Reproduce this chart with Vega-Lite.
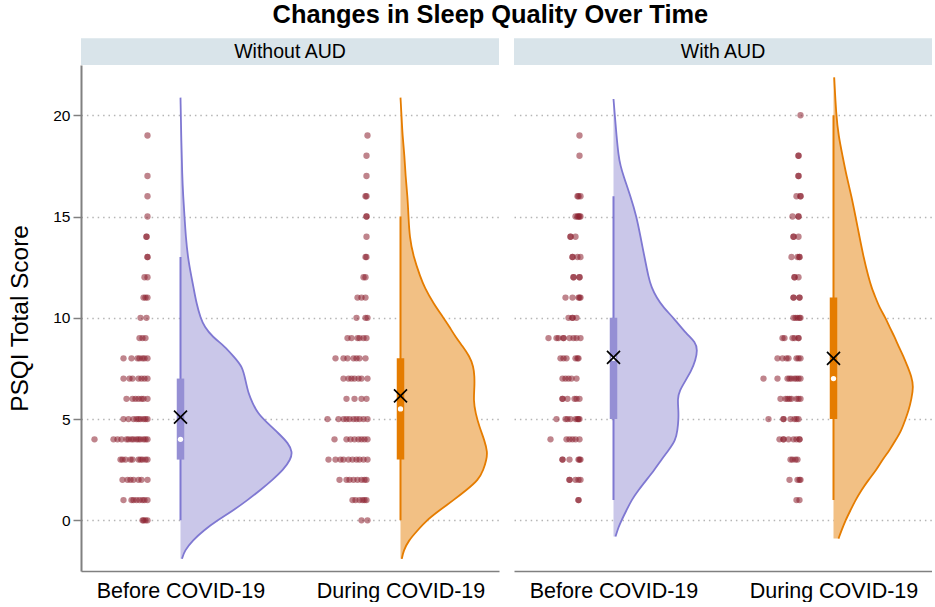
{"$schema":"https://vega.github.io/schema/vega-lite/v6.json","padding":{"left":7,"top":2,"right":0,"bottom":0},"background":"white","config":{"font":"Liberation Sans","view":{"stroke":null},"concat":{"spacing":15}},"title":{"text":"Changes in Sleep Quality Over Time","fontSize":25.4,"fontWeight":"bold","font":"Liberation Sans","color":"#000000","anchor":"middle","offset":10,"dx":20.5},
"datasets":{
"strip":[{"panel":"Without AUD","x":-99.5,"x2":318.5,"y":22.48,"y2":23.8},{"panel":"With AUD","x":-99.5,"x2":318.5,"y":22.48,"y2":23.8}],
"stripLabel":[{"panel":"Without AUD","x":109.5,"y":23.14},{"panel":"With AUD","x":109.5,"y":23.14}],
"box":[
{"panel":"Without AUD","period":"Before","part":"whisker","x":0,"y":0,"y2":13},{"panel":"Without AUD","period":"Before","part":"box","x":0,"y":3,"y2":7},{"panel":"Without AUD","period":"Before","part":"median","x":0,"y":4},{"panel":"Without AUD","period":"Before","part":"mean","x":0,"y":5.1},
{"panel":"Without AUD","period":"During","part":"whisker","x":220,"y":0,"y2":15},{"panel":"Without AUD","period":"During","part":"box","x":220,"y":3,"y2":8},{"panel":"Without AUD","period":"During","part":"median","x":220,"y":5.5},{"panel":"Without AUD","period":"During","part":"mean","x":220,"y":6.15},
{"panel":"With AUD","period":"Before","part":"whisker","x":0,"y":1,"y2":16},{"panel":"With AUD","period":"Before","part":"box","x":0,"y":5,"y2":10},{"panel":"With AUD","period":"Before","part":"median","x":0,"y":8},{"panel":"With AUD","period":"Before","part":"mean","x":0,"y":8.05},
{"panel":"With AUD","period":"During","part":"whisker","x":220,"y":1,"y2":20},{"panel":"With AUD","period":"During","part":"box","x":220,"y":5,"y2":11},{"panel":"With AUD","period":"During","part":"median","x":220,"y":7},{"panel":"With AUD","period":"During","part":"mean","x":220,"y":8}],
"violin":[
{"panel":"Without AUD","period":"Before","base":0,"y":-1.9,"x":1.5},{"panel":"Without AUD","period":"Before","base":0,"y":-1.9,"x":1.5},{"panel":"Without AUD","period":"Before","base":0,"y":-1.5,"x":4},{"panel":"Without AUD","period":"Before","base":0,"y":-1,"x":12},{"panel":"Without AUD","period":"Before","base":0,"y":-0.5,"x":23},{"panel":"Without AUD","period":"Before","base":0,"y":0,"x":37},{"panel":"Without AUD","period":"Before","base":0,"y":0.5,"x":53},{"panel":"Without AUD","period":"Before","base":0,"y":1,"x":67},{"panel":"Without AUD","period":"Before","base":0,"y":1.5,"x":80},{"panel":"Without AUD","period":"Before","base":0,"y":2,"x":92},{"panel":"Without AUD","period":"Before","base":0,"y":2.5,"x":103},{"panel":"Without AUD","period":"Before","base":0,"y":3,"x":110},{"panel":"Without AUD","period":"Before","base":0,"y":3.37,"x":112},{"panel":"Without AUD","period":"Before","base":0,"y":3.8,"x":108},{"panel":"Without AUD","period":"Before","base":0,"y":4.3,"x":98},{"panel":"Without AUD","period":"Before","base":0,"y":4.8,"x":87},{"panel":"Without AUD","period":"Before","base":0,"y":5.3,"x":77},{"panel":"Without AUD","period":"Before","base":0,"y":5.8,"x":72},{"panel":"Without AUD","period":"Before","base":0,"y":6.25,"x":68},{"panel":"Without AUD","period":"Before","base":0,"y":6.9,"x":65},{"panel":"Without AUD","period":"Before","base":0,"y":7.6,"x":62},{"panel":"Without AUD","period":"Before","base":0,"y":8.1,"x":53},{"panel":"Without AUD","period":"Before","base":0,"y":8.6,"x":44},{"panel":"Without AUD","period":"Before","base":0,"y":9.06,"x":32},{"panel":"Without AUD","period":"Before","base":0,"y":9.55,"x":24},{"panel":"Without AUD","period":"Before","base":0,"y":10,"x":20},{"panel":"Without AUD","period":"Before","base":0,"y":10.7,"x":16},{"panel":"Without AUD","period":"Before","base":0,"y":11.5,"x":13},{"panel":"Without AUD","period":"Before","base":0,"y":12,"x":11},{"panel":"Without AUD","period":"Before","base":0,"y":13,"x":7.3},{"panel":"Without AUD","period":"Before","base":0,"y":14,"x":5.3},{"panel":"Without AUD","period":"Before","base":0,"y":15,"x":4},{"panel":"Without AUD","period":"Before","base":0,"y":16,"x":2.7},{"panel":"Without AUD","period":"Before","base":0,"y":17,"x":1.7},{"panel":"Without AUD","period":"Before","base":0,"y":19,"x":0.7},{"panel":"Without AUD","period":"Before","base":0,"y":20.87,"x":0},{"panel":"Without AUD","period":"Before","base":0,"y":20.87,"x":0},
{"panel":"Without AUD","period":"During","base":220,"y":-1.9,"x":221.3},{"panel":"Without AUD","period":"During","base":220,"y":-1.9,"x":221.3},{"panel":"Without AUD","period":"During","base":220,"y":-1.5,"x":223},{"panel":"Without AUD","period":"During","base":220,"y":-1,"x":228},{"panel":"Without AUD","period":"During","base":220,"y":-0.5,"x":237},{"panel":"Without AUD","period":"During","base":220,"y":0,"x":246},{"panel":"Without AUD","period":"During","base":220,"y":0.5,"x":259},{"panel":"Without AUD","period":"During","base":220,"y":1,"x":273},{"panel":"Without AUD","period":"During","base":220,"y":1.5,"x":286},{"panel":"Without AUD","period":"During","base":220,"y":2,"x":298},{"panel":"Without AUD","period":"During","base":220,"y":2.5,"x":303},{"panel":"Without AUD","period":"During","base":220,"y":3,"x":306},{"panel":"Without AUD","period":"During","base":220,"y":3.37,"x":307},{"panel":"Without AUD","period":"During","base":220,"y":3.95,"x":304},{"panel":"Without AUD","period":"During","base":220,"y":4.6,"x":299},{"panel":"Without AUD","period":"During","base":220,"y":5.3,"x":295},{"panel":"Without AUD","period":"During","base":220,"y":5.9,"x":293},{"panel":"Without AUD","period":"During","base":220,"y":6.6,"x":294},{"panel":"Without AUD","period":"During","base":220,"y":7.1,"x":294},{"panel":"Without AUD","period":"During","base":220,"y":7.6,"x":293},{"panel":"Without AUD","period":"During","base":220,"y":8.1,"x":289},{"panel":"Without AUD","period":"During","base":220,"y":8.6,"x":282},{"panel":"Without AUD","period":"During","base":220,"y":9.06,"x":275},{"panel":"Without AUD","period":"During","base":220,"y":9.55,"x":269},{"panel":"Without AUD","period":"During","base":220,"y":10,"x":263},{"panel":"Without AUD","period":"During","base":220,"y":10.7,"x":253},{"panel":"Without AUD","period":"During","base":220,"y":11.5,"x":244},{"panel":"Without AUD","period":"During","base":220,"y":12,"x":240},{"panel":"Without AUD","period":"During","base":220,"y":13,"x":233},{"panel":"Without AUD","period":"During","base":220,"y":14,"x":229},{"panel":"Without AUD","period":"During","base":220,"y":15,"x":228},{"panel":"Without AUD","period":"During","base":220,"y":16,"x":227},{"panel":"Without AUD","period":"During","base":220,"y":17,"x":225},{"panel":"Without AUD","period":"During","base":220,"y":18,"x":224},{"panel":"Without AUD","period":"During","base":220,"y":19,"x":222},{"panel":"Without AUD","period":"During","base":220,"y":20,"x":221},{"panel":"Without AUD","period":"During","base":220,"y":20.87,"x":220},{"panel":"Without AUD","period":"During","base":220,"y":20.87,"x":220},
{"panel":"With AUD","period":"Before","base":0,"y":-0.8,"x":2},{"panel":"With AUD","period":"Before","base":0,"y":-0.8,"x":2},{"panel":"With AUD","period":"Before","base":0,"y":-0.33,"x":5},{"panel":"With AUD","period":"Before","base":0,"y":0,"x":8},{"panel":"With AUD","period":"Before","base":0,"y":0.5,"x":13},{"panel":"With AUD","period":"Before","base":0,"y":1,"x":18},{"panel":"With AUD","period":"Before","base":0,"y":1.5,"x":25},{"panel":"With AUD","period":"Before","base":0,"y":2,"x":33},{"panel":"With AUD","period":"Before","base":0,"y":2.5,"x":41},{"panel":"With AUD","period":"Before","base":0,"y":3,"x":48},{"panel":"With AUD","period":"Before","base":0,"y":3.46,"x":55},{"panel":"With AUD","period":"Before","base":0,"y":3.95,"x":62},{"panel":"With AUD","period":"Before","base":0,"y":4.45,"x":64},{"panel":"With AUD","period":"Before","base":0,"y":5,"x":65},{"panel":"With AUD","period":"Before","base":0,"y":5.4,"x":65},{"panel":"With AUD","period":"Before","base":0,"y":6,"x":64},{"panel":"With AUD","period":"Before","base":0,"y":6.4,"x":66},{"panel":"With AUD","period":"Before","base":0,"y":6.9,"x":72},{"panel":"With AUD","period":"Before","base":0,"y":7.4,"x":78},{"panel":"With AUD","period":"Before","base":0,"y":7.9,"x":82},{"panel":"With AUD","period":"Before","base":0,"y":8.4,"x":84},{"panel":"With AUD","period":"Before","base":0,"y":8.8,"x":82},{"panel":"With AUD","period":"Before","base":0,"y":9.2,"x":73},{"panel":"With AUD","period":"Before","base":0,"y":10,"x":60},{"panel":"With AUD","period":"Before","base":0,"y":10.5,"x":50},{"panel":"With AUD","period":"Before","base":0,"y":11,"x":43},{"panel":"With AUD","period":"Before","base":0,"y":11.5,"x":38},{"panel":"With AUD","period":"Before","base":0,"y":12,"x":35},{"panel":"With AUD","period":"Before","base":0,"y":13,"x":31},{"panel":"With AUD","period":"Before","base":0,"y":14,"x":27},{"panel":"With AUD","period":"Before","base":0,"y":15,"x":23},{"panel":"With AUD","period":"Before","base":0,"y":16,"x":17},{"panel":"With AUD","period":"Before","base":0,"y":17,"x":10},{"panel":"With AUD","period":"Before","base":0,"y":17.5,"x":7},{"panel":"With AUD","period":"Before","base":0,"y":18,"x":5},{"panel":"With AUD","period":"Before","base":0,"y":19,"x":3},{"panel":"With AUD","period":"Before","base":0,"y":20,"x":1.3},{"panel":"With AUD","period":"Before","base":0,"y":20.8,"x":0},{"panel":"With AUD","period":"Before","base":0,"y":20.8,"x":0},
{"panel":"With AUD","period":"During","base":220,"y":-0.9,"x":225},{"panel":"With AUD","period":"During","base":220,"y":-0.9,"x":225},{"panel":"With AUD","period":"During","base":220,"y":-0.5,"x":228},{"panel":"With AUD","period":"During","base":220,"y":0,"x":232},{"panel":"With AUD","period":"During","base":220,"y":0.5,"x":237},{"panel":"With AUD","period":"During","base":220,"y":1,"x":242},{"panel":"With AUD","period":"During","base":220,"y":1.5,"x":248},{"panel":"With AUD","period":"During","base":220,"y":2,"x":255},{"panel":"With AUD","period":"During","base":220,"y":2.5,"x":263},{"panel":"With AUD","period":"During","base":220,"y":3,"x":269},{"panel":"With AUD","period":"During","base":220,"y":3.46,"x":276},{"panel":"With AUD","period":"During","base":220,"y":3.95,"x":282},{"panel":"With AUD","period":"During","base":220,"y":4.45,"x":288},{"panel":"With AUD","period":"During","base":220,"y":5,"x":292},{"panel":"With AUD","period":"During","base":220,"y":5.4,"x":295},{"panel":"With AUD","period":"During","base":220,"y":6,"x":298},{"panel":"With AUD","period":"During","base":220,"y":6.6,"x":300},{"panel":"With AUD","period":"During","base":220,"y":7.1,"x":298},{"panel":"With AUD","period":"During","base":220,"y":7.6,"x":294},{"panel":"With AUD","period":"During","base":220,"y":8.1,"x":290},{"panel":"With AUD","period":"During","base":220,"y":8.6,"x":285},{"panel":"With AUD","period":"During","base":220,"y":9.06,"x":281},{"panel":"With AUD","period":"During","base":220,"y":9.55,"x":276},{"panel":"With AUD","period":"During","base":220,"y":10,"x":272},{"panel":"With AUD","period":"During","base":220,"y":10.5,"x":266},{"panel":"With AUD","period":"During","base":220,"y":11,"x":262},{"panel":"With AUD","period":"During","base":220,"y":11.5,"x":258},{"panel":"With AUD","period":"During","base":220,"y":12,"x":255},{"panel":"With AUD","period":"During","base":220,"y":13,"x":250},{"panel":"With AUD","period":"During","base":220,"y":14,"x":246},{"panel":"With AUD","period":"During","base":220,"y":15,"x":242},{"panel":"With AUD","period":"During","base":220,"y":16,"x":238},{"panel":"With AUD","period":"During","base":220,"y":17,"x":233},{"panel":"With AUD","period":"During","base":220,"y":18,"x":229},{"panel":"With AUD","period":"During","base":220,"y":19,"x":225},{"panel":"With AUD","period":"During","base":220,"y":20,"x":222.7},{"panel":"With AUD","period":"During","base":220,"y":21.87,"x":220.7},{"panel":"With AUD","period":"During","base":220,"y":21.87,"x":220.7}],
"dots":[
{"panel":"Without AUD","y":0,"x":-38},{"panel":"Without AUD","y":0,"x":-37},{"panel":"Without AUD","y":0,"x":-35},{"panel":"Without AUD","y":0,"x":-33},
{"panel":"Without AUD","y":1,"x":-57},{"panel":"Without AUD","y":1,"x":-49},{"panel":"Without AUD","y":1,"x":-47},{"panel":"Without AUD","y":1,"x":-44},{"panel":"Without AUD","y":1,"x":-41},{"panel":"Without AUD","y":1,"x":-38},{"panel":"Without AUD","y":1,"x":-36},{"panel":"Without AUD","y":1,"x":-33},
{"panel":"Without AUD","y":2,"x":-58},{"panel":"Without AUD","y":2,"x":-53},{"panel":"Without AUD","y":2,"x":-50},{"panel":"Without AUD","y":2,"x":-47},{"panel":"Without AUD","y":2,"x":-42},{"panel":"Without AUD","y":2,"x":-39},{"panel":"Without AUD","y":2,"x":-33},
{"panel":"Without AUD","y":3,"x":-60},{"panel":"Without AUD","y":3,"x":-58},{"panel":"Without AUD","y":3,"x":-55},{"panel":"Without AUD","y":3,"x":-50},{"panel":"Without AUD","y":3,"x":-48},{"panel":"Without AUD","y":3,"x":-42},{"panel":"Without AUD","y":3,"x":-40},{"panel":"Without AUD","y":3,"x":-38},{"panel":"Without AUD","y":3,"x":-35},{"panel":"Without AUD","y":3,"x":-33},
{"panel":"Without AUD","y":4,"x":-86},{"panel":"Without AUD","y":4,"x":-67},{"panel":"Without AUD","y":4,"x":-63},{"panel":"Without AUD","y":4,"x":-59},{"panel":"Without AUD","y":4,"x":-54},{"panel":"Without AUD","y":4,"x":-52},{"panel":"Without AUD","y":4,"x":-49},{"panel":"Without AUD","y":4,"x":-47},{"panel":"Without AUD","y":4,"x":-44},{"panel":"Without AUD","y":4,"x":-42},{"panel":"Without AUD","y":4,"x":-40},{"panel":"Without AUD","y":4,"x":-37},{"panel":"Without AUD","y":4,"x":-35},{"panel":"Without AUD","y":4,"x":-33},
{"panel":"Without AUD","y":5,"x":-57},{"panel":"Without AUD","y":5,"x":-52},{"panel":"Without AUD","y":5,"x":-47},{"panel":"Without AUD","y":5,"x":-44},{"panel":"Without AUD","y":5,"x":-42},{"panel":"Without AUD","y":5,"x":-40},{"panel":"Without AUD","y":5,"x":-37},{"panel":"Without AUD","y":5,"x":-35},{"panel":"Without AUD","y":5,"x":-33},
{"panel":"Without AUD","y":6,"x":-54},{"panel":"Without AUD","y":6,"x":-48},{"panel":"Without AUD","y":6,"x":-45},{"panel":"Without AUD","y":6,"x":-42},{"panel":"Without AUD","y":6,"x":-39},{"panel":"Without AUD","y":6,"x":-37},{"panel":"Without AUD","y":6,"x":-33},
{"panel":"Without AUD","y":7,"x":-57},{"panel":"Without AUD","y":7,"x":-51},{"panel":"Without AUD","y":7,"x":-48},{"panel":"Without AUD","y":7,"x":-42},{"panel":"Without AUD","y":7,"x":-39},{"panel":"Without AUD","y":7,"x":-36},{"panel":"Without AUD","y":7,"x":-33},
{"panel":"Without AUD","y":8,"x":-57},{"panel":"Without AUD","y":8,"x":-49},{"panel":"Without AUD","y":8,"x":-43},{"panel":"Without AUD","y":8,"x":-41},{"panel":"Without AUD","y":8,"x":-38},{"panel":"Without AUD","y":8,"x":-36},{"panel":"Without AUD","y":8,"x":-33},
{"panel":"Without AUD","y":9,"x":-41},{"panel":"Without AUD","y":9,"x":-38},{"panel":"Without AUD","y":9,"x":-35},
{"panel":"Without AUD","y":10,"x":-40},{"panel":"Without AUD","y":10,"x":-34},
{"panel":"Without AUD","y":11,"x":-37},{"panel":"Without AUD","y":11,"x":-35},{"panel":"Without AUD","y":11,"x":-33},
{"panel":"Without AUD","y":12,"x":-36},{"panel":"Without AUD","y":12,"x":-33},
{"panel":"Without AUD","y":13,"x":-33},{"panel":"Without AUD","y":13,"x":-33},{"panel":"Without AUD","y":14,"x":-34},{"panel":"Without AUD","y":14,"x":-34},{"panel":"Without AUD","y":15,"x":-33},{"panel":"Without AUD","y":16,"x":-33},{"panel":"Without AUD","y":17,"x":-33},{"panel":"Without AUD","y":19,"x":-33},
{"panel":"Without AUD","y":0,"x":181},{"panel":"Without AUD","y":0,"x":187},
{"panel":"Without AUD","y":1,"x":172},{"panel":"Without AUD","y":1,"x":175},{"panel":"Without AUD","y":1,"x":179},{"panel":"Without AUD","y":1,"x":182},{"panel":"Without AUD","y":1,"x":184},{"panel":"Without AUD","y":1,"x":186},
{"panel":"Without AUD","y":2,"x":159},{"panel":"Without AUD","y":2,"x":166},{"panel":"Without AUD","y":2,"x":169},{"panel":"Without AUD","y":2,"x":173},{"panel":"Without AUD","y":2,"x":177},{"panel":"Without AUD","y":2,"x":181},{"panel":"Without AUD","y":2,"x":184},{"panel":"Without AUD","y":2,"x":186},
{"panel":"Without AUD","y":3,"x":148},{"panel":"Without AUD","y":3,"x":155},{"panel":"Without AUD","y":3,"x":160},{"panel":"Without AUD","y":3,"x":163},{"panel":"Without AUD","y":3,"x":168},{"panel":"Without AUD","y":3,"x":172},{"panel":"Without AUD","y":3,"x":176},{"panel":"Without AUD","y":3,"x":179},{"panel":"Without AUD","y":3,"x":183},{"panel":"Without AUD","y":3,"x":187},
{"panel":"Without AUD","y":4,"x":154},{"panel":"Without AUD","y":4,"x":166},{"panel":"Without AUD","y":4,"x":170},{"panel":"Without AUD","y":4,"x":174},{"panel":"Without AUD","y":4,"x":178},{"panel":"Without AUD","y":4,"x":181},{"panel":"Without AUD","y":4,"x":184},{"panel":"Without AUD","y":4,"x":187},
{"panel":"Without AUD","y":5,"x":147},{"panel":"Without AUD","y":5,"x":158},{"panel":"Without AUD","y":5,"x":163},{"panel":"Without AUD","y":5,"x":166},{"panel":"Without AUD","y":5,"x":169},{"panel":"Without AUD","y":5,"x":173},{"panel":"Without AUD","y":5,"x":176},{"panel":"Without AUD","y":5,"x":179},{"panel":"Without AUD","y":5,"x":183},{"panel":"Without AUD","y":5,"x":187},
{"panel":"Without AUD","y":6,"x":166},{"panel":"Without AUD","y":6,"x":174},{"panel":"Without AUD","y":6,"x":181},{"panel":"Without AUD","y":6,"x":186},
{"panel":"Without AUD","y":7,"x":163},{"panel":"Without AUD","y":7,"x":168},{"panel":"Without AUD","y":7,"x":171},{"panel":"Without AUD","y":7,"x":174},{"panel":"Without AUD","y":7,"x":178},{"panel":"Without AUD","y":7,"x":181},{"panel":"Without AUD","y":7,"x":187},
{"panel":"Without AUD","y":8,"x":155},{"panel":"Without AUD","y":8,"x":163},{"panel":"Without AUD","y":8,"x":167},{"panel":"Without AUD","y":8,"x":173},{"panel":"Without AUD","y":8,"x":176},{"panel":"Without AUD","y":8,"x":179},{"panel":"Without AUD","y":8,"x":185},
{"panel":"Without AUD","y":9,"x":167},{"panel":"Without AUD","y":9,"x":171},{"panel":"Without AUD","y":9,"x":177},{"panel":"Without AUD","y":9,"x":179},{"panel":"Without AUD","y":9,"x":183},{"panel":"Without AUD","y":9,"x":186},
{"panel":"Without AUD","y":10,"x":176},{"panel":"Without AUD","y":10,"x":185},{"panel":"Without AUD","y":10,"x":187},
{"panel":"Without AUD","y":11,"x":177},{"panel":"Without AUD","y":11,"x":181},{"panel":"Without AUD","y":11,"x":185},
{"panel":"Without AUD","y":12,"x":183},{"panel":"Without AUD","y":12,"x":185},
{"panel":"Without AUD","y":13,"x":185},{"panel":"Without AUD","y":13,"x":186},{"panel":"Without AUD","y":14,"x":186},{"panel":"Without AUD","y":15,"x":186},{"panel":"Without AUD","y":15,"x":186},{"panel":"Without AUD","y":16,"x":186},{"panel":"Without AUD","y":16,"x":185},{"panel":"Without AUD","y":17,"x":186},{"panel":"Without AUD","y":18,"x":186},{"panel":"Without AUD","y":19,"x":187},
{"panel":"With AUD","y":1,"x":-35},{"panel":"With AUD","y":1,"x":-35},
{"panel":"With AUD","y":2,"x":-44},{"panel":"With AUD","y":2,"x":-44},{"panel":"With AUD","y":2,"x":-38},{"panel":"With AUD","y":2,"x":-35},{"panel":"With AUD","y":2,"x":-33},
{"panel":"With AUD","y":3,"x":-51},{"panel":"With AUD","y":3,"x":-51},{"panel":"With AUD","y":3,"x":-44},{"panel":"With AUD","y":3,"x":-35},{"panel":"With AUD","y":3,"x":-34},{"panel":"With AUD","y":3,"x":-33},
{"panel":"With AUD","y":4,"x":-63},{"panel":"With AUD","y":4,"x":-47},{"panel":"With AUD","y":4,"x":-44},{"panel":"With AUD","y":4,"x":-41},{"panel":"With AUD","y":4,"x":-38},{"panel":"With AUD","y":4,"x":-34},
{"panel":"With AUD","y":5,"x":-57},{"panel":"With AUD","y":5,"x":-48},{"panel":"With AUD","y":5,"x":-46},{"panel":"With AUD","y":5,"x":-43},{"panel":"With AUD","y":5,"x":-38},{"panel":"With AUD","y":5,"x":-36},{"panel":"With AUD","y":5,"x":-35},{"panel":"With AUD","y":5,"x":-34},
{"panel":"With AUD","y":6,"x":-51},{"panel":"With AUD","y":6,"x":-51},{"panel":"With AUD","y":6,"x":-46},{"panel":"With AUD","y":6,"x":-39},{"panel":"With AUD","y":6,"x":-37},{"panel":"With AUD","y":6,"x":-34},
{"panel":"With AUD","y":7,"x":-51},{"panel":"With AUD","y":7,"x":-48},{"panel":"With AUD","y":7,"x":-45},{"panel":"With AUD","y":7,"x":-42},{"panel":"With AUD","y":7,"x":-37},
{"panel":"With AUD","y":8,"x":-53},{"panel":"With AUD","y":8,"x":-50},{"panel":"With AUD","y":8,"x":-47},{"panel":"With AUD","y":8,"x":-38},{"panel":"With AUD","y":8,"x":-36},{"panel":"With AUD","y":8,"x":-35},
{"panel":"With AUD","y":9,"x":-65},{"panel":"With AUD","y":9,"x":-57},{"panel":"With AUD","y":9,"x":-55},{"panel":"With AUD","y":9,"x":-50},{"panel":"With AUD","y":9,"x":-50},{"panel":"With AUD","y":9,"x":-44},{"panel":"With AUD","y":9,"x":-40},{"panel":"With AUD","y":9,"x":-37},{"panel":"With AUD","y":9,"x":-33},
{"panel":"With AUD","y":10,"x":-45},{"panel":"With AUD","y":10,"x":-41},{"panel":"With AUD","y":10,"x":-41},{"panel":"With AUD","y":10,"x":-37},
{"panel":"With AUD","y":11,"x":-48},{"panel":"With AUD","y":11,"x":-41},{"panel":"With AUD","y":11,"x":-35},{"panel":"With AUD","y":11,"x":-34},{"panel":"With AUD","y":11,"x":-33},
{"panel":"With AUD","y":12,"x":-40},{"panel":"With AUD","y":12,"x":-40},{"panel":"With AUD","y":12,"x":-34},{"panel":"With AUD","y":12,"x":-34},
{"panel":"With AUD","y":13,"x":-41},{"panel":"With AUD","y":13,"x":-41},{"panel":"With AUD","y":13,"x":-36},{"panel":"With AUD","y":13,"x":-33},
{"panel":"With AUD","y":14,"x":-43},{"panel":"With AUD","y":14,"x":-43},{"panel":"With AUD","y":14,"x":-38},
{"panel":"With AUD","y":15,"x":-38},{"panel":"With AUD","y":15,"x":-36},{"panel":"With AUD","y":15,"x":-35},{"panel":"With AUD","y":15,"x":-34},{"panel":"With AUD","y":15,"x":-33},
{"panel":"With AUD","y":16,"x":-36},{"panel":"With AUD","y":16,"x":-35},{"panel":"With AUD","y":16,"x":-33},
{"panel":"With AUD","y":18,"x":-34},{"panel":"With AUD","y":19,"x":-34},
{"panel":"With AUD","y":1,"x":183},{"panel":"With AUD","y":1,"x":186},
{"panel":"With AUD","y":2,"x":176},{"panel":"With AUD","y":2,"x":184},{"panel":"With AUD","y":2,"x":186},{"panel":"With AUD","y":2,"x":187},
{"panel":"With AUD","y":3,"x":177},{"panel":"With AUD","y":3,"x":179},{"panel":"With AUD","y":3,"x":182},{"panel":"With AUD","y":3,"x":184},
{"panel":"With AUD","y":4,"x":166},{"panel":"With AUD","y":4,"x":170},{"panel":"With AUD","y":4,"x":170},{"panel":"With AUD","y":4,"x":175},{"panel":"With AUD","y":4,"x":180},{"panel":"With AUD","y":4,"x":183},{"panel":"With AUD","y":4,"x":186},{"panel":"With AUD","y":4,"x":186},
{"panel":"With AUD","y":5,"x":155},{"panel":"With AUD","y":5,"x":170},{"panel":"With AUD","y":5,"x":170},{"panel":"With AUD","y":5,"x":177},{"panel":"With AUD","y":5,"x":181},{"panel":"With AUD","y":5,"x":183},{"panel":"With AUD","y":5,"x":185},
{"panel":"With AUD","y":6,"x":167},{"panel":"With AUD","y":6,"x":172},{"panel":"With AUD","y":6,"x":174},{"panel":"With AUD","y":6,"x":176},{"panel":"With AUD","y":6,"x":178},{"panel":"With AUD","y":6,"x":183},{"panel":"With AUD","y":6,"x":185},{"panel":"With AUD","y":6,"x":187},
{"panel":"With AUD","y":7,"x":150},{"panel":"With AUD","y":7,"x":164},{"panel":"With AUD","y":7,"x":174},{"panel":"With AUD","y":7,"x":176},{"panel":"With AUD","y":7,"x":178},{"panel":"With AUD","y":7,"x":181},{"panel":"With AUD","y":7,"x":183},{"panel":"With AUD","y":7,"x":185},{"panel":"With AUD","y":7,"x":187},
{"panel":"With AUD","y":8,"x":164},{"panel":"With AUD","y":8,"x":169},{"panel":"With AUD","y":8,"x":173},{"panel":"With AUD","y":8,"x":175},{"panel":"With AUD","y":8,"x":183},{"panel":"With AUD","y":8,"x":185},{"panel":"With AUD","y":8,"x":187},
{"panel":"With AUD","y":9,"x":169},{"panel":"With AUD","y":9,"x":171},{"panel":"With AUD","y":9,"x":179},{"panel":"With AUD","y":9,"x":181},{"panel":"With AUD","y":9,"x":185},{"panel":"With AUD","y":9,"x":185},
{"panel":"With AUD","y":10,"x":180},{"panel":"With AUD","y":10,"x":182},{"panel":"With AUD","y":10,"x":184},{"panel":"With AUD","y":10,"x":186},{"panel":"With AUD","y":10,"x":187},
{"panel":"With AUD","y":11,"x":180},{"panel":"With AUD","y":11,"x":180},{"panel":"With AUD","y":11,"x":186},{"panel":"With AUD","y":11,"x":186},
{"panel":"With AUD","y":12,"x":181},{"panel":"With AUD","y":12,"x":181},{"panel":"With AUD","y":12,"x":185},
{"panel":"With AUD","y":13,"x":178},{"panel":"With AUD","y":13,"x":184},{"panel":"With AUD","y":13,"x":186},{"panel":"With AUD","y":13,"x":186},
{"panel":"With AUD","y":14,"x":180},{"panel":"With AUD","y":14,"x":180},{"panel":"With AUD","y":14,"x":185},
{"panel":"With AUD","y":15,"x":179},{"panel":"With AUD","y":15,"x":185},{"panel":"With AUD","y":15,"x":185},
{"panel":"With AUD","y":16,"x":183},{"panel":"With AUD","y":16,"x":187},{"panel":"With AUD","y":16,"x":187},
{"panel":"With AUD","y":17,"x":185},{"panel":"With AUD","y":17,"x":185},{"panel":"With AUD","y":18,"x":185},{"panel":"With AUD","y":18,"x":185},{"panel":"With AUD","y":20,"x":187}]
},
"hconcat":[
{"width":418,"height":506,
"encoding":{"x":{"field":"x","type":"quantitative","scale":{"domain":[-99.5,318.5],"nice":false,"zero":false},"axis":{"title":null,"values":[0,220],"labelExpr":"datum.value==0?'Before COVID-19':'During COVID-19'","labelFontSize":21.5,"labelColor":"#000000","labelPadding":9,"ticks":false,"grid":false,"domainColor":"#808080","domainWidth":1.5,"labelFlush":false,"labelOverlap":false}},
"y":{"field":"y","type":"quantitative","scale":{"domain":[-2.5,22.48],"nice":false,"zero":false},"axis":{"title":"PSQI Total Score","titleFontSize":24.4,"titleFontWeight":"normal","titleColor":"#000000","titlePadding":20,"values":[0,5,10,15,20],"labelFontSize":15.5,"labelColor":"#000000","labelPadding":3,"tickSize":8,"tickColor":"#808080","tickWidth":1.5,"domainColor":"#808080","domainWidth":2,"grid":true,"gridColor":"#b5b5b5","gridDash":[1.5,3.9],"gridWidth":1.3}}},
"resolve":{"scale":{"color":"independent"}},
"layer":[
{"data":{"name":"violin"},"transform":[{"filter":"datum.panel=='Without AUD'"}],"mark":{"type":"area","orient":"horizontal","interpolate":"basis"},"encoding":{"x2":{"field":"base"},"color":{"field":"period","type":"nominal","legend":null,"scale":{"domain":["Before","During"],"range":["#CAC7E9","#F2C084"]}}}},
{"data":{"name":"violin"},"transform":[{"filter":"datum.panel=='Without AUD'"}],"mark":{"type":"line","interpolate":"basis","strokeWidth":1.8},"encoding":{"order":{"field":"y"},"color":{"field":"period","type":"nominal","legend":null,"scale":{"domain":["Before","During"],"range":["#7F78D2","#E57C00"]}}}},
{"data":{"name":"dots"},"transform":[{"filter":"datum.panel=='Without AUD'"}],"mark":{"type":"circle","size":40,"color":"#8A1F2D","opacity":0.55}},
{"data":{"name":"box"},"transform":[{"filter":"datum.panel=='Without AUD'&&datum.part=='whisker'"}],"mark":{"type":"rule","strokeWidth":2},"encoding":{"y2":{"field":"y2"},"color":{"field":"period","type":"nominal","legend":null,"scale":{"domain":["Before","During"],"range":["#7F78D2","#E57C00"]}}}},
{"data":{"name":"box"},"transform":[{"filter":"datum.panel=='Without AUD'&&datum.part=='box'"}],"mark":{"type":"rule","strokeWidth":7.5},"encoding":{"y2":{"field":"y2"},"color":{"field":"period","type":"nominal","legend":null,"scale":{"domain":["Before","During"],"range":["#958FD4","#E57C00"]}}}},
{"data":{"name":"box"},"transform":[{"filter":"datum.panel=='Without AUD'&&datum.part=='median'"}],"mark":{"type":"circle","size":28,"color":"#FFFFFF","opacity":1}},
{"data":{"name":"box"},"transform":[{"filter":"datum.panel=='Without AUD'&&datum.part=='mean'"}],"mark":{"type":"point","shape":"M-1,-1L1,1M-1,1L1,-1","size":169,"stroke":"#000000","strokeWidth":1.7,"opacity":1,"filled":false}},
{"data":{"name":"strip"},"transform":[{"filter":"datum.panel=='Without AUD'"}],"mark":{"type":"rect","color":"#D9E4EA"},"encoding":{"x2":{"field":"x2"},"y2":{"field":"y2"}}},
{"data":{"name":"stripLabel"},"transform":[{"filter":"datum.panel=='Without AUD'"}],"mark":{"type":"text","fontSize":19.5,"color":"#000000","baseline":"middle","align":"center"},"encoding":{"text":{"field":"panel"}}}
]},
{"width":418,"height":506,
"encoding":{"x":{"field":"x","type":"quantitative","scale":{"domain":[-99.5,318.5],"nice":false,"zero":false},"axis":{"title":null,"values":[0,220],"labelExpr":"datum.value==0?'Before COVID-19':'During COVID-19'","labelFontSize":21.5,"labelColor":"#000000","labelPadding":9,"ticks":false,"grid":false,"domainColor":"#808080","domainWidth":1.5,"labelFlush":false,"labelOverlap":false}},
"y":{"field":"y","type":"quantitative","scale":{"domain":[-2.5,22.48],"nice":false,"zero":false},"axis":{"title":null,"values":[0,5,10,15,20],"labels":false,"ticks":false,"domain":false,"grid":true,"gridColor":"#b5b5b5","gridDash":[1.5,3.9],"gridWidth":1.3}}},
"resolve":{"scale":{"color":"independent"}},
"layer":[
{"data":{"name":"violin"},"transform":[{"filter":"datum.panel=='With AUD'"}],"mark":{"type":"area","orient":"horizontal","interpolate":"basis"},"encoding":{"x2":{"field":"base"},"color":{"field":"period","type":"nominal","legend":null,"scale":{"domain":["Before","During"],"range":["#CAC7E9","#F2C084"]}}}},
{"data":{"name":"violin"},"transform":[{"filter":"datum.panel=='With AUD'"}],"mark":{"type":"line","interpolate":"basis","strokeWidth":1.8},"encoding":{"order":{"field":"y"},"color":{"field":"period","type":"nominal","legend":null,"scale":{"domain":["Before","During"],"range":["#7F78D2","#E57C00"]}}}},
{"data":{"name":"dots"},"transform":[{"filter":"datum.panel=='With AUD'"}],"mark":{"type":"circle","size":40,"color":"#8A1F2D","opacity":0.55}},
{"data":{"name":"box"},"transform":[{"filter":"datum.panel=='With AUD'&&datum.part=='whisker'"}],"mark":{"type":"rule","strokeWidth":2},"encoding":{"y2":{"field":"y2"},"color":{"field":"period","type":"nominal","legend":null,"scale":{"domain":["Before","During"],"range":["#7F78D2","#E57C00"]}}}},
{"data":{"name":"box"},"transform":[{"filter":"datum.panel=='With AUD'&&datum.part=='box'"}],"mark":{"type":"rule","strokeWidth":7.5},"encoding":{"y2":{"field":"y2"},"color":{"field":"period","type":"nominal","legend":null,"scale":{"domain":["Before","During"],"range":["#958FD4","#E57C00"]}}}},
{"data":{"name":"box"},"transform":[{"filter":"datum.panel=='With AUD'&&datum.part=='median'"}],"mark":{"type":"circle","size":28,"color":"#FFFFFF","opacity":1}},
{"data":{"name":"box"},"transform":[{"filter":"datum.panel=='With AUD'&&datum.part=='mean'"}],"mark":{"type":"point","shape":"M-1,-1L1,1M-1,1L1,-1","size":169,"stroke":"#000000","strokeWidth":1.7,"opacity":1,"filled":false}},
{"data":{"name":"strip"},"transform":[{"filter":"datum.panel=='With AUD'"}],"mark":{"type":"rect","color":"#D9E4EA"},"encoding":{"x2":{"field":"x2"},"y2":{"field":"y2"}}},
{"data":{"name":"stripLabel"},"transform":[{"filter":"datum.panel=='With AUD'"}],"mark":{"type":"text","fontSize":19.5,"color":"#000000","baseline":"middle","align":"center"},"encoding":{"text":{"field":"panel"}}}
]}
]}
